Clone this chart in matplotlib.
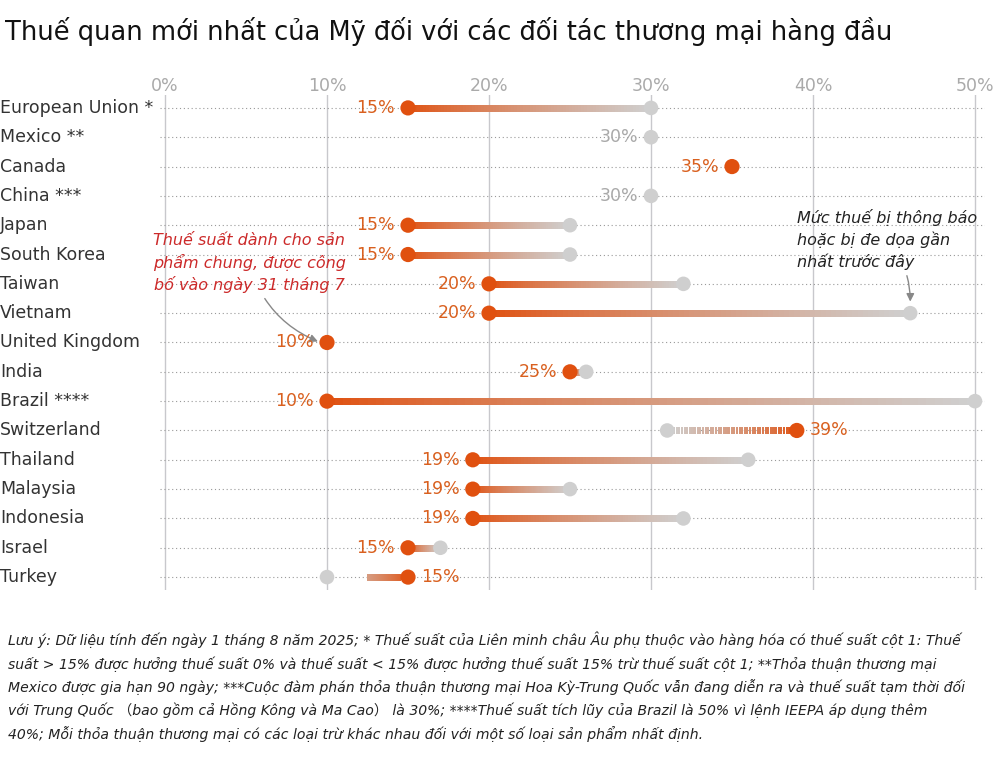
import matplotlib
matplotlib.use("Agg")
import matplotlib.pyplot as plt
import numpy as np
from matplotlib.collections import LineCollection
from matplotlib.colors import to_rgb

countries = ["European Union *", "Mexico **", "Canada", "China ***", "Japan", "South Korea",
             "Taiwan", "Vietnam", "United Kingdom", "India", "Brazil ****", "Switzerland",
             "Thailand", "Malaysia", "Indonesia", "Israel", "Turkey"]
new_rate = [15, 30, 35, 30, 15, 15, 20, 20, 10, 25, 10, 39, 19, 19, 19, 15, 15]
prev_rate = [30, 30, None, 30, 25, 25, 32, 46, None, 26, 50, 31, 36, 25, 32, 17, 10]
changed = [True, False, True, False, True, True, True, True, True, True, True, True, True, True, True, True, True]
ticks = [0, 10, 20, 30, 40, 50]

ORANGE = "#e0500f"
ORANGE_T = "#d9601f"
GRAY = "#cfcfcf"
GRAY_T = "#a9a9a9"

fig = plt.figure(figsize=(10, 7.66), dpi=100)
ax = fig.add_axes([0.160, 1 - 590 / 766, 0.825, 495 / 766])
ax.set_xlim(-5 / 16.2, 820 / 16.2)
ax.set_ylim(16.44, -0.44)
for s in ax.spines.values():
    s.set_visible(False)
ax.set_yticks([]); ax.set_xticks([])

for t in ticks:
    ax.axvline(t, color="#c8c8cc", lw=1, zorder=0)
    ax.text(t, -0.75, f"{t}%", ha="center", va="center", color="#aaaaaa", fontsize=12.5, clip_on=False)

c0 = np.array(to_rgb(ORANGE)); c1 = np.array(to_rgb(GRAY))
for i, (c, n, p, ch) in enumerate(zip(countries, new_rate, prev_rate, changed)):
    ax.plot([-0.3, 50.6], [i, i], color="#999999", lw=0.8, ls=(0, (1, 2.5)), zorder=0)
    fig.text(0.0, 1 - (108 + 29.31 * i) / 766, c, ha="left", va="center", fontsize=12.5, color="#333333")
    if p is not None and ch:
        N = 80
        xs = np.linspace(n, p, N + 1)
        d = (xs[1] - xs[0]) * 0.6
        segs = [[(xs[k] - d * np.sign(p - n) * 0, i), (xs[k + 1] + d, i) if p > n else (xs[k + 1] - d, i)]
                for k in range(N)]
        fr = np.linspace(0, 1, N) ** 0.8
        cols = [tuple(c0 * (1 - f) + c1 * f) for f in fr]
        ax.add_collection(LineCollection(segs, colors=cols, linewidths=5, zorder=2,
                                         capstyle="butt", antialiaseds=False))
        ax.scatter([p], [i], s=110, color=GRAY, zorder=3, edgecolors="none")
    if ch:
        ax.scatter([n], [i], s=120, color=ORANGE, zorder=4, edgecolors="none")
        col = ORANGE_T
    else:
        ax.scatter([n], [i], s=110, color=GRAY, zorder=4, edgecolors="none")
        col = GRAY_T
    right = p is not None and ch and n > p
    ax.text(n + (0.8 if right else -0.8), i, f"{n}%", ha="left" if right else "right",
            va="center", fontsize=12.5, color=col, zorder=5)

fig.text(0.005, 1 - 32 / 766, "Thuế quan mới nhất của Mỹ đối với các đối tác thương mại hàng đầu",
         fontsize=18.5, ha="left", va="center", color="#111111", fontweight="medium")

ax.annotate("Thuế suất dành cho sản\nphẩm chung, được công\nbố vào ngày 31 tháng 7",
            xy=(9.6, 8), xytext=(5.2, 5.3), fontsize=11.5, style="italic", color="#cc2a2a",
            ha="center", va="center", linespacing=1.4,
            arrowprops=dict(arrowstyle="-|>", color="#888888", lw=1, connectionstyle="arc3,rad=0.25"))
ax.annotate("Mức thuế bị thông báo\nhoặc bị đe dọa gần\nnhất trước đây",
            xy=(46, 6.7), xytext=(39, 4.5), fontsize=11.5, style="italic", color="#222222",
            ha="left", va="center", linespacing=1.4,
            arrowprops=dict(arrowstyle="-|>", color="#888888", lw=1, connectionstyle="arc3,rad=-0.2"))

note = ("Lưu ý: Dữ liệu tính đến ngày 1 tháng 8 năm 2025; * Thuế suất của Liên minh châu Âu phụ thuộc vào hàng hóa có thuế suất cột 1: Thuế\n"
        "suất > 15% được hưởng thuế suất 0% và thuế suất < 15% được hưởng thuế suất 15% trừ thuế suất cột 1; **Thỏa thuận thương mại\n"
        "Mexico được gia hạn 90 ngày; ***Cuộc đàm phán thỏa thuận thương mại Hoa Kỳ-Trung Quốc vẫn đang diễn ra và thuế suất tạm thời đối\n"
        "với Trung Quốc （bao gồm cả Hồng Kông và Ma Cao） là 30%; ****Thuế suất tích lũy của Brazil là 50% vì lệnh IEEPA áp dụng thêm\n"
        "40%; Mỗi thỏa thuận thương mại có các loại trừ khác nhau đối với một số loại sản phẩm nhất định.")
fig.text(0.008, 1 - 632 / 766, note, fontsize=10.1, style="italic", ha="left", va="top",
         color="#222222", linespacing=1.6, family=["DejaVu Sans", "Noto Sans CJK SC"])

fig.savefig("out.png", dpi=100, facecolor="white")
